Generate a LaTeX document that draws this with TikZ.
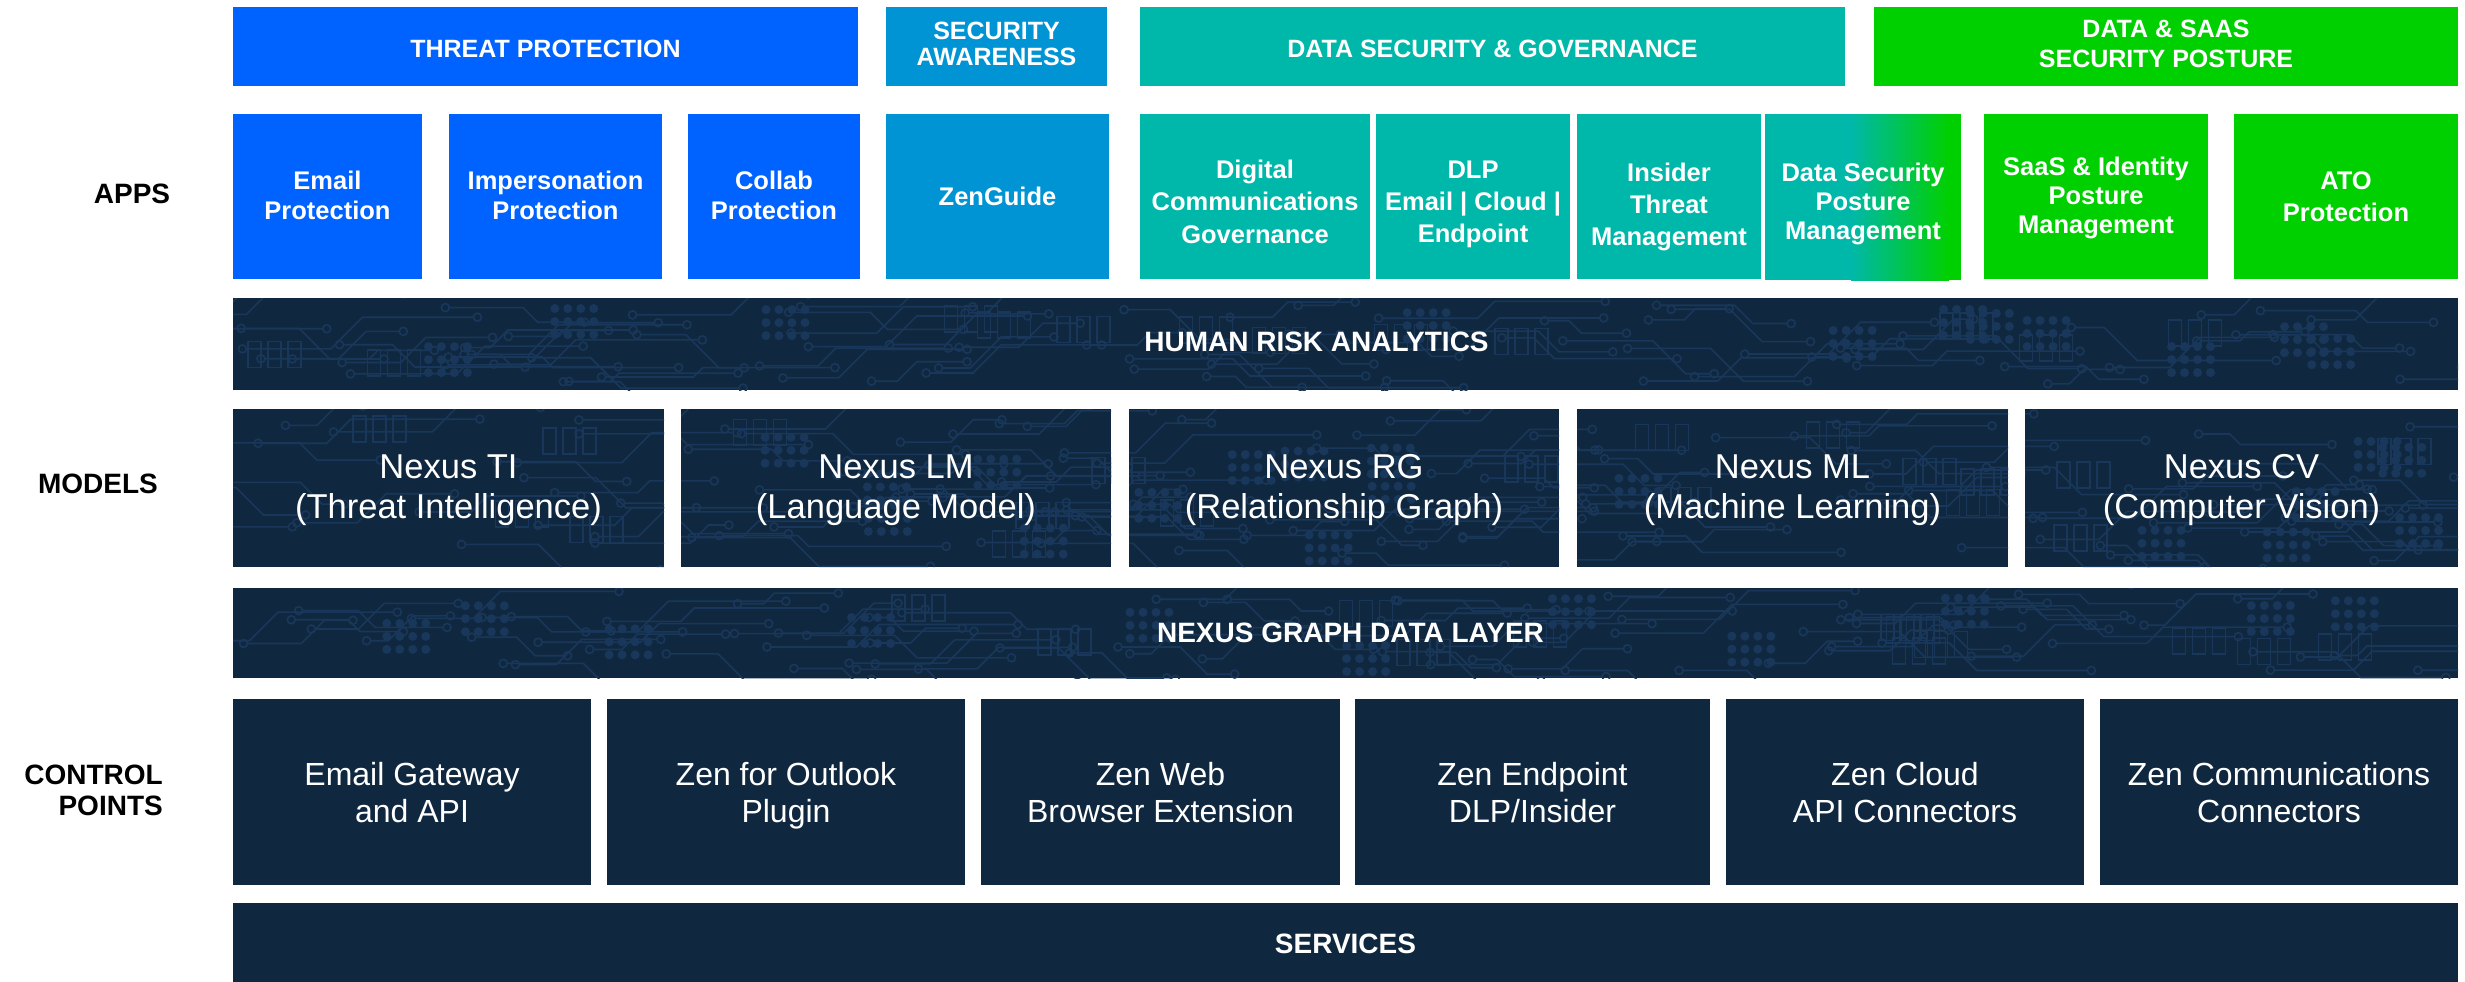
\documentclass[tikz,border=0pt]{standalone}
\usepackage{fontspec}
\setmainfont{Liberation Sans}
\definecolor{tpblue}{HTML}{0062FF}
\definecolor{sablue}{HTML}{0094D5}
\definecolor{dsteal}{HTML}{00B8A9}
\definecolor{spgreen}{HTML}{00D000}
\definecolor{navy}{HTML}{10283F}
\definecolor{navyl}{HTML}{19375A}
\tikzset{
  box/.style={inner sep=0pt, outer sep=0pt, draw=none},
  hdr/.style={box, text=white, font=\bfseries\fontsize{25}{26}\selectfont, align=center},
  app/.style={box, text=white, font=\bfseries\fontsize{25.5}{29.5}\selectfont, align=center},
  mdl/.style={box, text=white, font=\fontsize{34.5}{40}\selectfont, align=center},
  ctl/.style={box, text=white, font=\fontsize{32}{37}\selectfont, align=center},
  band/.style={box, text=white, font=\bfseries\fontsize{28}{30}\selectfont},
  lbl/.style={inner sep=0pt, text=black, font=\bfseries\fontsize{28}{31}\selectfont},
  trace/.style={draw=navyl, line width=1.6pt},
  dot/.style={fill=navyl},
}
% \bx{name}{x1}{y1}{x2}{y2}{style}{text}{baseline offset}
\newcommand\bx[8]{%
  \pgfmathsetmacro\bcx{(#2+#4)/2}\pgfmathsetmacro\bcy{(#3+#5)/2}%
  \pgfmathsetmacro\bw{#4-#2}\pgfmathsetmacro\bh{#5-#3}%
  \pgfmathsetmacro\ra{2*#8+10}%
  \node[#6, minimum width=\bw pt, minimum height=\bh pt] (#1) at (\bcx,\bcy) {\rule{0pt}{\ra pt}#7\rule[-10pt]{0pt}{10pt}};}
\newcommand\circuit[5]{%
  \foreach \k in {1,...,#5}{%
    \pgfmathsetmacro\sx{#1-80+(#3-#1+120)*rnd}%
    \pgfmathsetmacro\sy{#2+6+(#4-#2-12)*rnd}%
    \pgfmathsetmacro\la{15+90*rnd}%
    \pgfmathsetmacro\lb{15+120*rnd}%
    \pgfmathsetmacro\dd{(rnd>0.5?1:-1)*(8+26*rnd)}%
    \pgfmathsetmacro\ad{abs(\dd)}%
    \draw[trace] (\sx,\sy) circle[radius=4] ++(4,0) -- ++(\la,0) -- ++(\ad,\dd) -- ++(\lb,0) ++(4,0) circle[radius=4];
  }%
  \foreach \k in {1,...,#5}{%
    \pgfmathtruncatemacro\kk{mod(\k,7)}%
    \ifnum\kk=0
    \pgfmathsetmacro\sx{#1+(#3-#1-50)*rnd}%
    \pgfmathsetmacro\sy{#2+8+(#4-#2-40)*rnd}%
    \foreach \i in {0,...,3}{\foreach \j in {0,1,2}{\fill[dot] (\sx+\i*13,\sy+\j*13) circle[radius=4.5];}}%
    \fi
    \ifnum\kk=3
    \pgfmathsetmacro\sx{#1+(#3-#1-60)*rnd}%
    \pgfmathsetmacro\sy{#2+6+(#4-#2-40)*rnd}%
    \foreach \i in {0,1,2}{\draw[trace] (\sx+\i*20,\sy) rectangle ++(13,26);}%
    \fi
  }}
\begin{document}
\begin{tikzpicture}[x=1pt,y=-1pt]
\useasboundingbox[fill=white] (0,0) rectangle (2465,982);
\pgfmathsetseed{7}
% ---------- headers ----------
\bx{hTP}{233}{7}{858}{86}{hdr, fill=tpblue}{THREAT PROTECTION}{10.8}
\bx{hSA}{886}{7}{1107}{86}{hdr, fill=sablue}{SECURITY\\AWARENESS}{6}
\bx{hDS}{1140}{7}{1845}{86}{hdr, fill=dsteal}{DATA SECURITY \& GOVERNANCE}{10.8}
\bx{hSP}{1874}{7}{2458}{86}{hdr, fill=spgreen, font=\bfseries\fontsize{25}{30}\selectfont}{DATA \& SAAS\\SECURITY POSTURE}{5.5}
% ---------- apps ----------
\bx{aEmail}{233}{114}{422}{279}{app, fill=tpblue}{Email\\Protection}{8.2}
\bx{aImp}{449}{114}{662}{279}{app, fill=tpblue}{Impersonation\\Protection}{8.2}
\bx{aCol}{688}{114}{860}{279}{app, fill=tpblue}{Collab\\Protection}{8.2}
\bx{aZen}{886}{114}{1109}{279}{app, fill=sablue}{ZenGuide}{8.5}
\bx{aDig}{1140}{114}{1370}{279}{app, fill=dsteal, font=\bfseries\fontsize{25.5}{32.5}\selectfont}{Digital\\Communications\\Governance}{14.2}
\bx{aDLP}{1376}{114}{1570}{279}{app, fill=dsteal, font=\bfseries\fontsize{25.5}{32}\selectfont}{DLP\\Email | Cloud |\\Endpoint}{13.8}
\bx{aIns}{1577}{114}{1761}{279}{app, fill=dsteal, font=\bfseries\fontsize{25.5}{31.7}\selectfont}{Insider\\Threat\\Management}{16.8}
\fill[dsteal] (1765,114) rectangle (1852,280);
\shade[left color=dsteal, right color=spgreen] (1851,114) rectangle (1949,280);
\fill[spgreen] (1948,114) rectangle (1961,280);
\bx{aDSPM}{1765}{114}{1961}{280}{app, font=\bfseries\fontsize{25.5}{28.8}\selectfont}{Data Security\\Posture\\Management}{13.5}
\bx{aSaaS}{1984}{114}{2208}{279}{app, fill=spgreen, font=\bfseries\fontsize{25.5}{29}\selectfont}{SaaS \& Identity\\Posture\\Management}{8.4}
\bx{aATO}{2234}{114}{2458}{279}{app, fill=spgreen, font=\bfseries\fontsize{25.5}{31.7}\selectfont}{ATO\\Protection}{9.3}
% ---------- dark bands with circuit texture ----------
\fill[navy] (233,298) rectangle (2458,390);
\fill[navy] (233,409) rectangle (664,567);
\fill[navy] (681,409) rectangle (1111,567);
\fill[navy] (1129,409) rectangle (1559,567);
\fill[navy] (1577,409) rectangle (2008,567);
\fill[navy] (2025,409) rectangle (2458,567);
\fill[navy] (233,588) rectangle (2458,678);
\begin{scope}
\clip (233,298) rectangle (2458,390);
\circuit{233}{298}{2458}{390}{80}
\end{scope}
\begin{scope}
\clip (233,409) rectangle (664,567) (681,409) rectangle (1111,567) (1129,409) rectangle (1559,567) (1577,409) rectangle (2008,567) (2025,409) rectangle (2458,567);
\circuit{233}{409}{2458}{567}{130}
\end{scope}
\begin{scope}
\clip (233,588) rectangle (2458,678);
\circuit{233}{588}{2458}{678}{80}
\end{scope}
\bx{hra}{233}{298}{2458}{390}{band}{HUMAN RISK ANALYTICS\hbox to 58pt{}}{7}
\bx{mTI}{233}{409}{664}{567}{mdl}{Nexus TI\\(Threat Intelligence)}{10.9}
\bx{mLM}{681}{409}{1111}{567}{mdl}{Nexus LM\\(Language Model)}{10.9}
\bx{mRG}{1129}{409}{1559}{567}{mdl}{Nexus RG\\(Relationship Graph)}{10.9}
\bx{mML}{1577}{409}{2008}{567}{mdl}{Nexus ML\\(Machine Learning)}{10.9}
\bx{mCV}{2025}{409}{2458}{567}{mdl}{Nexus CV\\(Computer Vision)}{10.9}
\bx{ngdl}{233}{588}{2458}{678}{band}{\hbox to 10pt{}NEXUS GRAPH DATA LAYER}{9}
% ---------- control points ----------
\bx{cEG}{233}{699}{591}{885}{ctl, fill=navy}{Email Gateway\\and API}{12.4}
\bx{cOut}{607}{699}{965}{885}{ctl, fill=navy}{Zen for Outlook\\Plugin}{12.4}
\bx{cWeb}{981}{699}{1340}{885}{ctl, fill=navy}{Zen Web\\Browser Extension}{12.4}
\bx{cEnd}{1355}{699}{1710}{885}{ctl, fill=navy}{Zen Endpoint\\DLP/Insider}{12.4}
\bx{cCloud}{1726}{699}{2084}{885}{ctl, fill=navy}{Zen Cloud\\API Connectors}{12.4}
\bx{cComm}{2100}{699}{2458}{885}{ctl, fill=navy}{Zen Communications\\Connectors}{12.4}
% ---------- services ----------
\bx{svc}{233}{903}{2458}{982}{band, fill=navy}{SERVICES}{10.5}
% ---------- left labels ----------
\node[lbl, anchor=base] (lApps) at (132,203) {APPS};
\node[lbl, anchor=base] (lModels) at (98,493) {MODELS};
\node[lbl, align=right, anchor=east] (lCtrl) at (163,799.5) {\rule{0pt}{25pt}CONTROL\\POINTS\rule[-25pt]{0pt}{25pt}};
\end{tikzpicture}
\end{document}
